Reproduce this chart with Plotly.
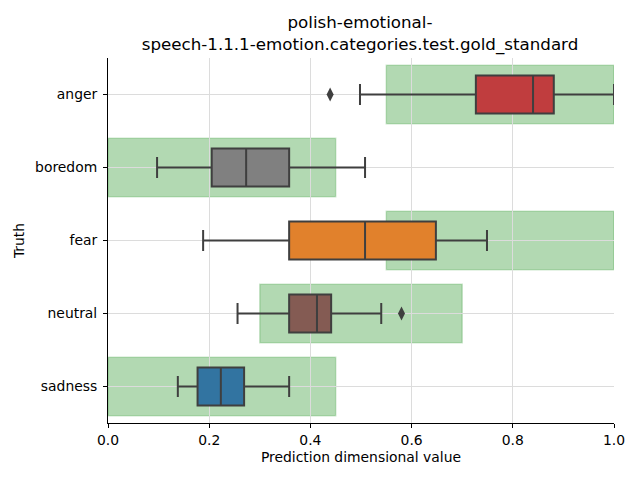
import plotly.graph_objects as go

categories = ["anger", "boredom", "fear", "neutral", "sadness"]
colors = ["#c03d3e", "#808080", "#e1812c", "#845b53", "#3274a1"]
q1 = [0.727, 0.205, 0.358, 0.358, 0.177]
median = [0.840, 0.273, 0.508, 0.413, 0.223]
q3 = [0.881, 0.358, 0.648, 0.441, 0.269]
lowerfence = [0.498, 0.097, 0.188, 0.256, 0.138]
upperfence = [1.0, 0.508, 0.749, 0.540, 0.358]
outlier_cats = ["anger", "neutral"]
outlier_vals = [0.439, 0.580]
gold_lo = [0.55, 0.0, 0.55, 0.30, 0.0]
gold_hi = [1.0, 0.45, 1.0, 0.70, 0.45]

fig = go.Figure()

for i, c in enumerate(categories):
    fig.add_shape(type="rect", xref="x", yref="y",
                  x0=gold_lo[i], x1=gold_hi[i], y0=i - 0.4, y1=i + 0.4,
                  fillcolor="rgba(0,128,0,0.3)",
                  line=dict(color="rgba(0,128,0,0.2)", width=1.5),
                  layer="below")

for i, c in enumerate(categories):
    fig.add_trace(go.Box(
        y=[c], q1=[q1[i]], median=[median[i]], q3=[q3[i]],
        lowerfence=[lowerfence[i]], upperfence=[upperfence[i]],
        orientation="h", fillcolor=colors[i],
        line=dict(color="#3f3f3f", width=2),
        width=0.52, whiskerwidth=0.55, boxpoints=False,
        showlegend=False, hoverinfo="skip"))

fig.add_trace(go.Scatter(
    x=outlier_vals, y=outlier_cats, mode="markers",
    marker=dict(symbol="diamond-tall", size=10, color="#3f3f3f"),
    showlegend=False))

W, H = 632, 472
fig.update_layout(
    width=W, height=H,
    plot_bgcolor="white", paper_bgcolor="white",
    margin=dict(l=100, r=26, t=50, b=57),
    font=dict(family="DejaVu Sans", size=13.9, color="black"),
    title=dict(text="polish-emotional-<br>speech-1.1.1-emotion.categories.test.gold_standard",
               x=352 / W, xanchor="center", xref="container",
               y=1 - 20 / H, yanchor="top", yref="container",
               font=dict(size=16.7)),
)
fig.update_xaxes(range=[0, 1], tickvals=[0, 0.2, 0.4, 0.6, 0.8, 1.0],
                 ticktext=["0.0", "0.2", "0.4", "0.6", "0.8", "1.0"],
                 automargin=False,
                 showgrid=True, gridcolor="#dcdcdc", gridwidth=1,
                 showline=True, linecolor="black", linewidth=1,
                 ticks="outside", ticklen=4, tickcolor="black",
                 tickfont=dict(size=13.9),
                 zeroline=False,
                 title=dict(text="Prediction dimensional value", standoff=5, font=dict(size=13.9)))
fig.update_yaxes(type="category", categoryorder="array", categoryarray=categories,
                 automargin=False,
                 range=[4.5, -0.5], showgrid=True, gridcolor="#dcdcdc", gridwidth=1,
                 showline=True, linecolor="black", linewidth=1,
                 ticks="outside", ticklen=4, tickcolor="black",
                 tickfont=dict(size=13.9), ticklabelstandoff=3,
                 zeroline=False,
                 title=dict(text="Truth", standoff=7, font=dict(size=13.9)))

fig.write_html("out.html")
